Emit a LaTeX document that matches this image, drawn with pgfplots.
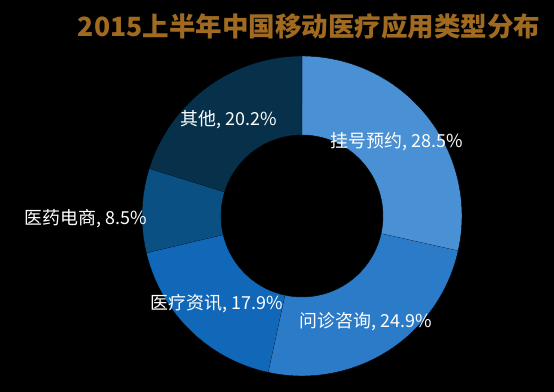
\documentclass[border=0pt]{standalone}
\usepackage{pgfplots}
\pgfplotsset{compat=1.18}
\usepackage{fontspec}
\setmainfont{Noto Sans CJK SC}
\definecolor{c1}{RGB}{74,144,212}
\definecolor{c2}{RGB}{44,123,200}
\definecolor{c3}{RGB}{17,104,184}
\definecolor{c4}{RGB}{11,80,130}
\definecolor{c5}{RGB}{7,48,74}
\definecolor{titlec}{RGB}{160,106,32}
% segment: start %, end %, colour
\newcommand\seg[3]{%
  \addplot[fill=#3, draw=black, line width=0.4pt, variable=\t,
    samples at={0,2,...,100,100.01,102,104,...,200}]
  ({302+ifthenelse(\t<=100,160,81)*cos(90-3.6*(#1+(#2-#1)*min(\t,200-\t)/100))},
   {176+ifthenelse(\t<=100,160,81)*sin(90-3.6*(#1+(#2-#1)*min(\t,200-\t)/100))});
}
\begin{document}
\begin{tikzpicture}
\fill[black] (0,0) rectangle (554bp,392bp);
\begin{axis}[at={(0,0)}, anchor=south west, scale only axis,
  width=554bp, height=392bp, xmin=0, xmax=554, ymin=0, ymax=392,
  hide axis, clip=false]
% values: 28.5, 24.9, 17.9, 8.5, 20.2 (cumulative bounds)
\seg{0}{28.5}{c1}
\seg{28.5}{53.4}{c2}
\seg{53.4}{71.3}{c3}
\seg{71.3}{79.8}{c4}
\seg{79.8}{100}{c5}
\begin{scope}[every node/.style={text=white, font=\fontsize{18}{18}\selectfont, inner sep=0pt}]
\node at (axis cs:397,250) {挂号预约, 28.5\%};
\node at (axis cs:366,70) {问诊咨询, 24.9\%};
\node at (axis cs:217,88) {医疗资讯, 17.9\%};
\node at (axis cs:86,173) {医药电商, 8.5\%};
\node at (axis cs:229,272) {其他, 20.2\%};
\end{scope}
\node[text=titlec, font=\fontsize{26.6}{26.6}\selectfont\bfseries, inner sep=0pt] at (axis cs:309,366) {2015上半年中国移动医疗应用类型分布};
\end{axis}
\end{tikzpicture}
\end{document}
